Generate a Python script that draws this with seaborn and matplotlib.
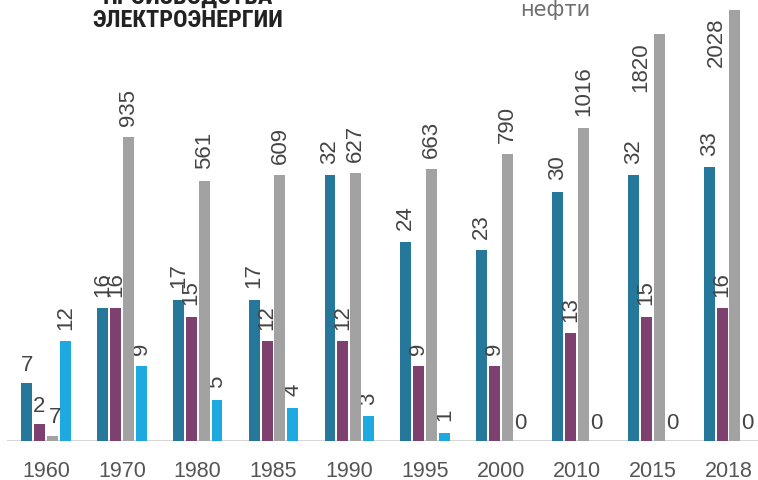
import numpy as np
import pandas as pd
import matplotlib
matplotlib.use("Agg")
import matplotlib.pyplot as plt
from matplotlib import font_manager as fm
import seaborn as sns

# --- data -----------------------------------------------------------------
years = ["1960", "1970", "1980", "1985", "1990", "1995", "2000", "2010", "2015", "2018"]
series_names = ["s1", "s2", "oil", "s3"]
s1_values = [7, 16, 17, 17, 32, 24, 23, 30, 32, 33]
s2_values = [2, 16, 15, 12, 12, 9, 9, 13, 15, 16]
oil_values = [7, 935, 561, 609, 627, 663, 790, 1016, 1820, 2028]
s3_values = [12, 9, 5, 4, 3, 1, 0, 0, 0, 0]
series_colors = ["#25789a", "#7e416f", "#a2a2a2", "#1eaae0"]

df = pd.DataFrame({
    "year": years * 4,
    "series": np.repeat(series_names, len(years)),
    "value": s1_values + s2_values + oil_values + s3_values,
})
palette = dict(zip(series_names, series_colors))


def narrow_bold_family():
    """Pick an installed condensed bold face for the heading, if any."""
    for fam in ["Liberation Sans Narrow", "DejaVu Sans Condensed",
                "Roboto Condensed", "Open Sans Condensed", "DejaVu Sans"]:
        try:
            path = fm.findfont(fm.FontProperties(family=fam, weight="bold",
                                                 stretch="condensed"),
                               fallback_to_default=False)
        except Exception:
            continue
        low = path.lower()
        if "narrow" in low or "condensed" in low:
            return fam, 17.5
    return "DejaVu Sans", 13


# --- figure ---------------------------------------------------------------
sns.set_theme(style="white")
plt.rcParams["font.family"] = ["Liberation Sans", "DejaVu Sans"]

fig = plt.figure(figsize=(7.58, 4.81), dpi=100)
ax = fig.add_axes([7 / 758, 39 / 481, 751 / 758, 442 / 481])
ax2 = ax.twinx()

bar_kw = dict(x="year", y="value", hue="series", hue_order=series_names,
              order=years, palette=palette, width=0.68, gap=0.15, dodge=True,
              saturation=1, legend=False, linewidth=0)
sns.barplot(data=df[df["series"] != "oil"], ax=ax, **bar_kw)
sns.barplot(data=df[df["series"] == "oil"], ax=ax2, **bar_kw)

# oil volumes use their own compressed scale on the twin axis
_knots_v = np.array([-1e4, 0.0, 300.0, 1e5])
_knots_h = np.array([-1e4 * 0.765, 0.0, 229.6, 194.6 + 0.1166 * 1e5])


def fwd(v):
    return np.interp(np.asarray(v, dtype=float), _knots_v, _knots_h)


def inv(h):
    return np.interp(np.asarray(h, dtype=float), _knots_h, _knots_v)


ax2.set_yscale("function", functions=(fwd, inv))
ax2.set_ylim(0, float(inv(442)))
ax.set_ylim(0, 442 / 8.3)
pitch = 75.83
ax.set_xlim((7 - 46) / pitch, (758 - 46) / pitch)

for a in (ax, ax2):
    a.set_xlabel("")
    a.set_ylabel("")
    a.set_yticks([])
    for sp in a.spines.values():
        sp.set_visible(False)
    a.grid(False)
ax2.patch.set_visible(False)

ax.axhline(0, color="#d2d2d2", lw=2, zorder=0.5)
ax.tick_params(axis="x", length=0, pad=14, labelsize=15.5, labelcolor="#555555")

# --- value labels -----------------------------------------------------------
label_kw = dict(textcoords="offset points", fontsize=16, color="#444444",
                annotation_clip=False)


def add_labels(axis, container, name):
    patches = sorted(container.patches, key=lambda p: p.get_x())
    for year, p in zip(years, patches):
        h = p.get_height()
        xc = p.get_x() + p.get_width() / 2
        txt = f"{int(round(h))}"
        if (year == "1960" and name != "s3") or h == 0:
            dx = 2 if name == "oil" else 0
            axis.annotate(txt, (xc, h), xytext=(dx, 6), rotation=0,
                          ha="center", va="bottom", **label_kw)
        elif name == "oil" and h > 1500:
            axis.annotate(txt, (p.get_x(), h), xytext=(-2, -5), rotation=90,
                          ha="right", va="top", **label_kw)
        else:
            axis.annotate(txt, (xc, h), xytext=(0, 9), rotation=90,
                          ha="center", va="bottom", **label_kw)


main_names = [n for n in series_names if n != "oil"]
main_containers = [c for c in ax.containers if len(c.patches)]
for cont, name in zip(main_containers, main_names):
    add_labels(ax, cont, name)
for cont in ax2.containers:
    if len(cont.patches):
        add_labels(ax2, cont, "oil")

# --- headings -----------------------------------------------------------------
head_family, head_size = narrow_bold_family()
head_kw = dict(family=[head_family, "DejaVu Sans"], fontweight="bold",
               fontstretch="condensed", fontsize=head_size, color="#222222",
               ha="center", va="baseline")
fig.text(188 / 758, 1 - 4 / 481, "ПРОИЗВОДСТВА", **head_kw)
fig.text(188 / 758, 1 - 27 / 481, "ЭЛЕКТРОЭНЕРГИИ", **head_kw)
fig.text(555 / 758, 1 - 16 / 481, "нефти", family=["DejaVu Sans"],
         fontsize=15, color="#6e6e6e", ha="center", va="baseline")

fig.savefig("out.png", dpi=100)
